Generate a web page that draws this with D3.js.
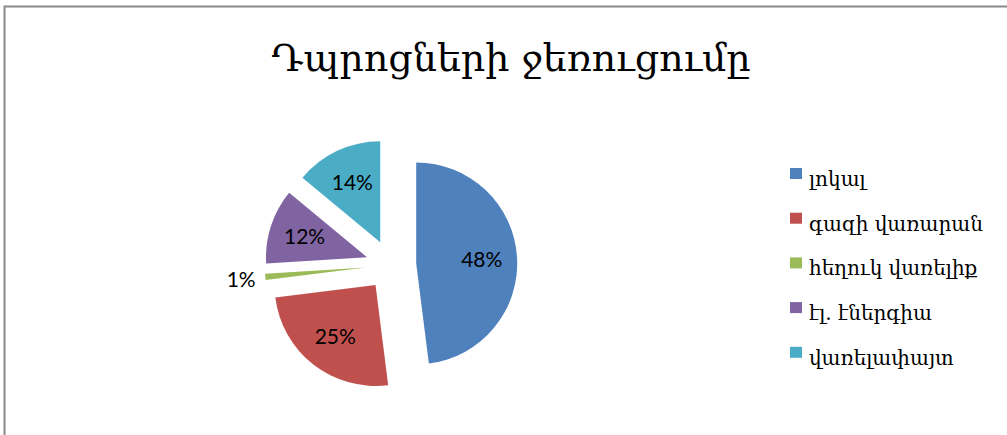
<!DOCTYPE html>
<html>
<head>
<meta charset="utf-8">
<script src="https://cdn.jsdelivr.net/npm/d3@7"></script>
<style>
  html, body { margin: 0; padding: 0; background: #fff; }
  svg { display: block; }
</style>
</head>
<body>
<svg id="chart" width="1007" height="435"></svg>
<script>
// ---- data ----
const title = "Դպրոցների ջեռուցումը";
const categories = ["լոկալ", "գազի վառարան", "հեղուկ վառելիք", "էլ. էներգիա", "վառելափայտ"];
const values = [48, 25, 1, 12, 14];
const colors = ["#4F81BD", "#C0504D", "#9BBB59", "#8064A2", "#4BACC6"];

// ---- layout ----
const W = 1007, H = 435;
const svg = d3.select("#chart");

// chart area border (only top/left visible)
svg.append("rect")
  .attr("x", 4.5).attr("y", 6.5)
  .attr("width", 1200).attr("height", 600)
  .attr("fill", "none")
  .attr("stroke", "#8a8a8a")
  .attr("stroke-width", 2);

// title
svg.append("text")
  .attr("x", 511).attr("y", 71)
  .attr("text-anchor", "middle")
  .attr("font-family", "'DejaVu Serif', serif")
  .attr("font-size", 38)
  .attr("fill", "#000")
  .text(title);

// pie
const cx = 391, cy = 265, r = 101, explode = 0.25 * r;
const total = d3.sum(values);
const pie = d3.pie().sort(null).value(d => d)(values);
const arc = d3.arc().innerRadius(0).outerRadius(r);

const g = svg.append("g").attr("transform", `translate(${cx},${cy})`);
const slices = g.selectAll("g.slice").data(pie).enter().append("g")
  .attr("class", "slice")
  .attr("transform", d => {
    const a = (d.startAngle + d.endAngle) / 2;
    return `translate(${explode * Math.sin(a)},${-explode * Math.cos(a)})`;
  });

slices.append("path")
  .attr("d", arc)
  .attr("fill", (d, i) => colors[i]);

const fmt = d => Math.round(d.value / total * 100) + "%";
slices.append("text")
  .attr("transform", d => {
    const frac = d.value / total;
    const lr = frac < 0.05 ? 1.24 * r : 0.65 * r;
    const c = d3.arc().innerRadius(lr).outerRadius(lr).centroid(d);
    return `translate(${c[0]},${c[1]})`;
  })
  .attr("text-anchor", "middle")
  .attr("dy", "0.36em")
  .attr("font-family", "Lato, 'Open Sans', sans-serif")
  .attr("font-size", 21)
  .attr("fill", "#000")
  .text(fmt);

// legend
const legend = svg.append("g").attr("transform", "translate(790,168)");
const rowH = 44.7;
const items = legend.selectAll("g").data(categories).enter().append("g")
  .attr("transform", (d, i) => `translate(0,${i * rowH})`);
items.append("rect")
  .attr("width", 12).attr("height", 11)
  .attr("fill", (d, i) => colors[i]);
items.append("text")
  .attr("x", 19).attr("y", 18)
  .attr("font-family", "'DejaVu Serif', serif")
  .attr("font-size", 20)
  .attr("fill", "#000")
  .text(d => d);
</script>
</body>
</html>
